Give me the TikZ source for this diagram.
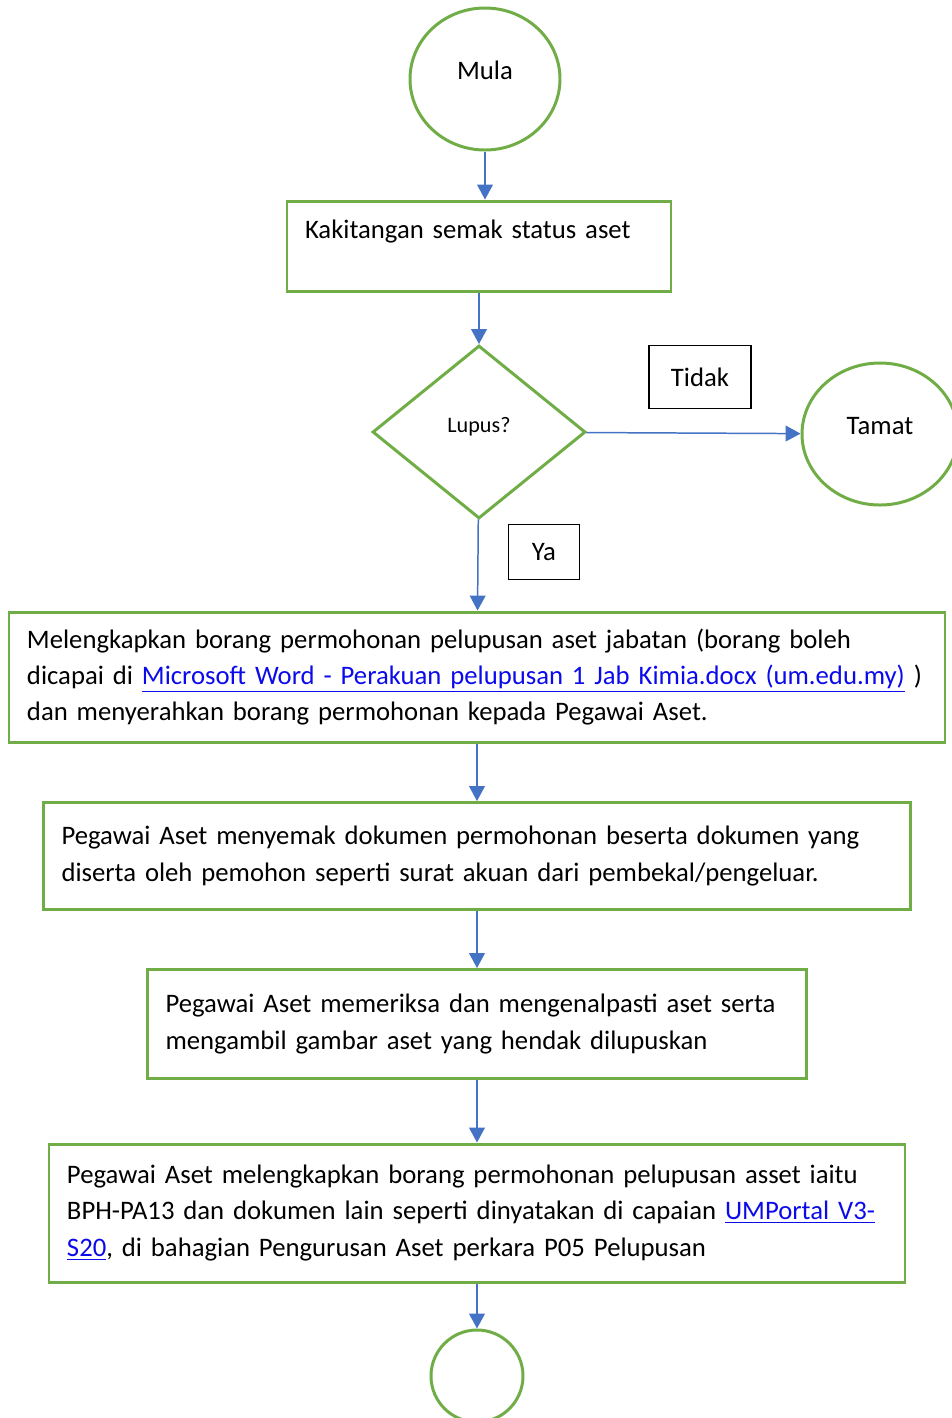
\documentclass[tikz,border=0pt]{standalone}
\usepackage{fontspec}
\setmainfont{Carlito}
\usetikzlibrary{shapes.geometric,arrows.meta}
\definecolor{hijau}{RGB}{112,173,71}
\definecolor{biru}{RGB}{68,114,196}
\definecolor{pautan}{RGB}{10,10,235}
\newcommand{\pxu}{0.02cm}
\newcommand{\pautan}[1]{\textcolor{pautan}{\underline{#1}}}

\begin{document}
\begin{tikzpicture}[x=\pxu,y=-\pxu]
\tikzset{
  teks/.style={font=\fontsize{15.2}{20.7}\selectfont},
  bulat/.style={teks,ellipse,draw=hijau,line width=1.7pt,inner sep=0pt,text height=1.5ex,text depth=1.5ex},
  langkah/.style={teks,rectangle,draw=hijau,line width=1.7pt,align=left,inner xsep=18*\pxu,inner ysep=0pt},
  kotak/.style={teks,rectangle,draw,line width=0.7pt,inner sep=0pt},
  panah/.style={biru,line width=0.85pt,-{Triangle[length=8.5pt,width=9pt]}}
}
\useasboundingbox (0,0) rectangle (951,1418);
\node[bulat,minimum width=150*\pxu,minimum height=142*\pxu] (mula) at (485,79) {Mula};
\node[langkah,text width=348*\pxu,minimum height=90*\pxu,text height=19*\pxu,text depth=35*\pxu] (status) at (479,246) {Kakitangan semak status aset};
\node[diamond,draw=hijau,line width=1.7pt,inner sep=0pt,minimum width=213*\pxu,minimum height=173*\pxu,
  font=\fontsize{12.6}{14}\selectfont,text height=1.5ex,text depth=1.5ex] (lupus) at (479,432) {Lupus?};
\node[kotak,minimum width=102*\pxu,minimum height=63*\pxu] (tidak) at (700,377) {Tidak};
\node[bulat,minimum width=156*\pxu,minimum height=142*\pxu] (tamat) at (880,434) {Tamat};
\node[kotak,minimum width=71*\pxu,minimum height=55*\pxu] (ya) at (544,552) {Ya};
\node[langkah,text width=900*\pxu,minimum height=130*\pxu] (lengkap) at (477,677) {Melengkapkan borang permohonan pelupusan aset jabatan (borang boleh\\
  dicapai di \pautan{Microsoft Word - Perakuan pelupusan 1 Jab Kimia.docx (um.edu.my)} )\\
  dan menyerahkan borang permohonan kepada Pegawai Aset.};
\node[langkah,text width=831*\pxu,minimum height=107*\pxu] (semak) at (477,856) {Pegawai Aset menyemak dokumen permohonan beserta dokumen yang\\
  diserta oleh pemohon seperti surat akuan dari pembekal/pengeluar.};
\node[langkah,text width=623*\pxu,minimum height=109*\pxu] (periksa) at (477,1024) {Pegawai Aset memeriksa dan mengenalpasti aset serta\\
  mengambil gambar aset yang hendak dilupuskan};
\node[langkah,text width=820*\pxu,minimum height=138*\pxu] (borang) at (477,1213) {Pegawai Aset melengkapkan borang permohonan pelupusan asset iaitu\\
  BPH-PA13 dan dokumen lain seperti dinyatakan di capaian \pautan{UMPortal V3-}\\
  \pautan{S20}, di bahagian Pengurusan Aset perkara P05 Pelupusan};
\node[bulat,minimum width=92*\pxu,minimum height=92*\pxu] (akhir) at (477,1376) {};
\draw[panah] (mula) -- (mula |- status.north);
\draw[panah] (status) -- (lupus);
\draw[panah] (lupus) -- (tamat);
\draw[panah] (lupus) -- (lengkap);
\draw[panah] (lengkap) -- (semak);
\draw[panah] (semak) -- (periksa);
\draw[panah] (periksa) -- (borang);
\draw[panah] (borang) -- (akhir);
\end{tikzpicture}
\end{document}
